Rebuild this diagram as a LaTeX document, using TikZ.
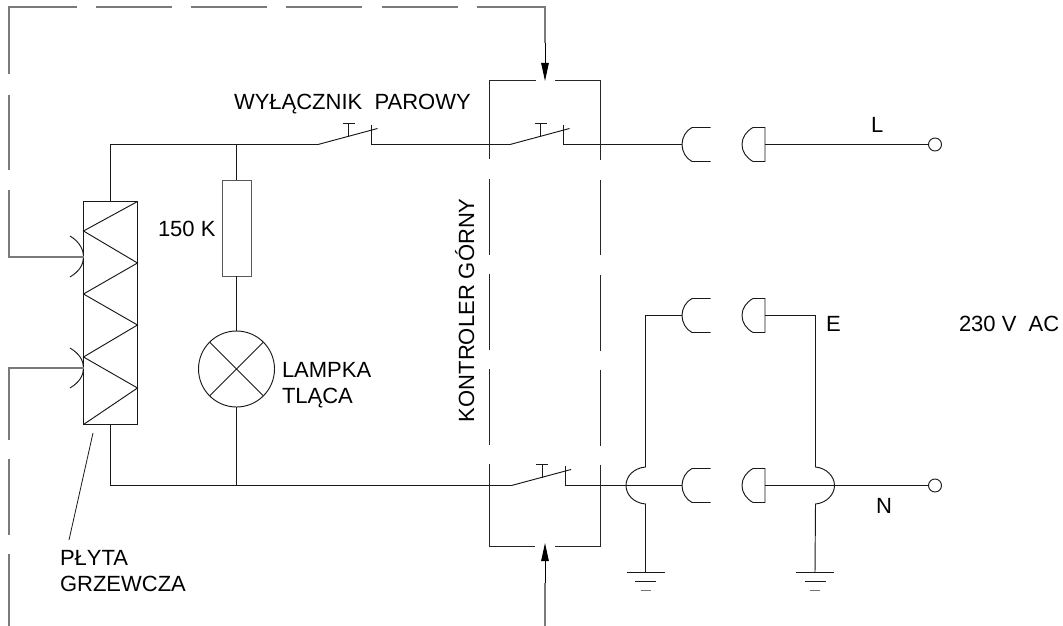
\documentclass[tikz,border=0pt]{standalone}
\usepackage{fontspec}
\setmainfont{Liberation Sans}
\usetikzlibrary{arrows.meta}
\tikzset{
  wire/.style={draw=black!90,line width=0.95pt,line cap=butt,line join=miter},
  ctrl/.style={draw=black!52,line width=1.7pt,line join=miter},
  framepart/.style={draw=black!85,line width=0.95pt,line join=miter,dash pattern=on 125pt off 20pt on 75.5pt off 19.5pt on 76pt off 19pt on 76pt off 19pt on 127pt off 2pt},
  head/.style={draw=black,line width=1pt,-{Triangle[length=18pt,width=7.5pt,black]}},
  lab/.style={inner sep=0pt,outer sep=0pt,anchor=base west,text=black,font=\fontsize{22}{26}\selectfont},
  heaterbox/.style={wire,rectangle,minimum width=54pt,minimum height=223pt,inner sep=0pt,outer sep=0pt},
  resbox/.style={wire,draw=black!65,rectangle,minimum width=29pt,minimum height=96pt,inner sep=0pt,outer sep=0pt},
  lampdisc/.style={wire,circle,minimum size=76pt,inner sep=0pt,outer sep=0pt},
  termdisc/.style={wire,circle,minimum size=13pt,inner sep=0pt,outer sep=0pt},
  switchgear/.pic={
    \coordinate (-in) at (0,0);
    \coordinate (-out) at (53.5,0);
    \draw[wire] (-in) -- (59.5,-16);
    \draw[wire] (53.5,-20) -- (-out);
    \draw[wire] (30.5,-8) -- (30.5,-21);
    \draw[wire] (24.5,-21) -- (36.5,-21);
  },
  fplug/.pic={
    \coordinate (-in) at (0,0);
    \draw[wire] (28.5,-17) -- (10,-17) .. controls (4,-14) and (0,-7) .. (-in) .. controls (0,7) and (4,14) .. (10,17) -- (28.5,17);
  },
  mplug/.pic={
    \coordinate (-out) at (0,0);
    \draw[wire] (-out) -- (0,-17) -- (-12,-17) .. controls (-19,-13) and (-23,-7) .. (-23,0) .. controls (-23,7) and (-19,13) .. (-12,17) -- (0,17) -- cycle;
  },
  earthmark/.pic={
    \coordinate (-top) at (0,0);
    \draw[wire] (-19,0) -- (19,0);
    \draw[wire] (-10.5,9) -- (10.5,9);
    \draw[wire,draw=black!55] (-5,18) -- (5,18);
  }
}
\begin{document}
\begin{tikzpicture}[x=1pt,y=-1pt]
\useasboundingbox (0,0) rectangle (1063,626);

% main components
\node[heaterbox] (heater) at (110.5,313) {};
\node[resbox] (res) at (236.5,228) {};
\node[lampdisc] (lamp) at (236.5,369) {};
\node[termdisc] (tL) at (935,144.5) {};
\node[termdisc] (tN) at (935,485.5) {};

% junctions
\coordinate (jtop) at (236.5,144.5);
\coordinate (jbot) at (236.5,485.5);
\coordinate (hk1) at (83.5,257);
\coordinate (hk2) at (83.5,368);

% heater zigzag
\draw[wire] (heater.north east) -- (83.5,231) -- (137.5,263) -- (83.5,294) -- (137.5,325) -- (83.5,357) -- (137.5,388) -- (heater.south west);
% thermal contacts
\draw[wire] (70,236) .. controls (80,242) and (83.5,250) .. (hk1) .. controls (83.5,264) and (80,271) .. (70,277);
\draw[wire] (70,348) .. controls (80,354) and (83.5,361) .. (hk2) .. controls (83.5,375) and (80,382) .. (70,388);

% switches, plugs, earth
\pic (s1) at (318,144.5) {switchgear};
\pic (s2) at (510,144.5) {switchgear};
\pic (s3) at (511.5,485.5) {switchgear};
\pic (f1) at (682,144.5) {fplug};
\pic (f2) at (682,315.5) {fplug};
\pic (f3) at (682,485.5) {fplug};
\pic (m1) at (765,144.5) {mplug};
\pic (m2) at (765,315.5) {mplug};
\pic (m3) at (765,485.5) {mplug};
\pic (g1) at (645.5,572) {earthmark};
\pic (g2) at (815,572) {earthmark};

% wiring
\draw[wire] (heater.north) |- (s1-in);
\draw[wire] (s1-out) -- (s2-in);
\draw[wire] (s2-out) -- (f1-in);
\draw[wire] (m1-out) -- (tL);
\draw[wire] (jtop) -- (res.north);
\draw[wire] (res.south) -- (lamp.north);
\draw[wire] (lamp.south) -- (jbot);
\draw[wire] (lamp.north west) -- (lamp.south east);
\draw[wire] (lamp.north east) -- (lamp.south west);
\draw[wire] (heater.south) |- (s3-in);
\draw[wire] (s3-out) -- (f3-in);
\draw[wire] (m3-out) -- (tN);
% earth wires with crossing hops
\draw[wire] (f2-in) -| (645.5,467) .. controls (634,468) and (626,476) .. (626,485.5) .. controls (626,495) and (634,503) .. (645.5,504) -- (g1-top);
\draw[wire] (m2-out) -| (815.5,467) .. controls (826,468) and (834.5,476) .. (834.5,485.5) .. controls (834.5,495) and (826,503) .. (815.5,504) -- (g2-top);

% leader
\coordinate (lead) at (93,433);
\draw[wire,line width=0.8pt] (lead) -- (69,540);

% controller frame
\draw[framepart] (535.5,80) -- (489.5,80) -- (489.5,546) -- (535.5,546);
\draw[framepart] (555,80) -- (600.5,80) -- (600.5,546) -- (555,546);

% control (dashed) lines
\coordinate (ctop) at (545,43);
\coordinate (ctopend) at (545,81);
\coordinate (cbot) at (545,583);
\coordinate (cbotend) at (545,543);
\draw[ctrl,dash pattern=on 142pt off 20pt on 75pt off 20pt on 135pt off 19pt on 76pt off 19pt on 76pt off 19pt on 76pt off 20pt on 76pt off 19pt on 120pt off 2pt]
  (hk1) -- (9,257) -- (9,7) -- (545,7) -- (ctop);
\draw[ctrl,dash pattern=on 146pt off 19pt on 76pt off 19pt on 90pt off 2pt]
  (hk2) -- (9,368) -- (9,626);
\draw[ctrl] (545,626) -- (cbot);
\draw[head] (ctop) -- (ctopend);
\draw[head] (cbot) -- (cbotend);

% labels
\node[lab] (lswitch) at (234,110) {WYŁĄCZNIK\ \ PAROWY};
\node[lab] (lres) at (158,236) {150 K};
\node[lab] (llamp1) at (282,377) {LAMPKA};
\node[lab] (llamp2) at (282,403) {TLĄCA};
\node[lab,rotate=90] (lctrl) at (474,422) {KONTROLER GÓRNY};
\node[lab] (lL) at (871,132) {L};
\node[lab] (lE) at (826,331) {E};
\node[lab] (lN) at (876,513) {N};
\node[lab] (lac) at (959,331) {230 V\ \ AC};
\node[lab] (lpl1) at (60,565) {PŁYTA};
\node[lab] (lpl2) at (60,591) {GRZEWCZA};
\end{tikzpicture}
\end{document}
